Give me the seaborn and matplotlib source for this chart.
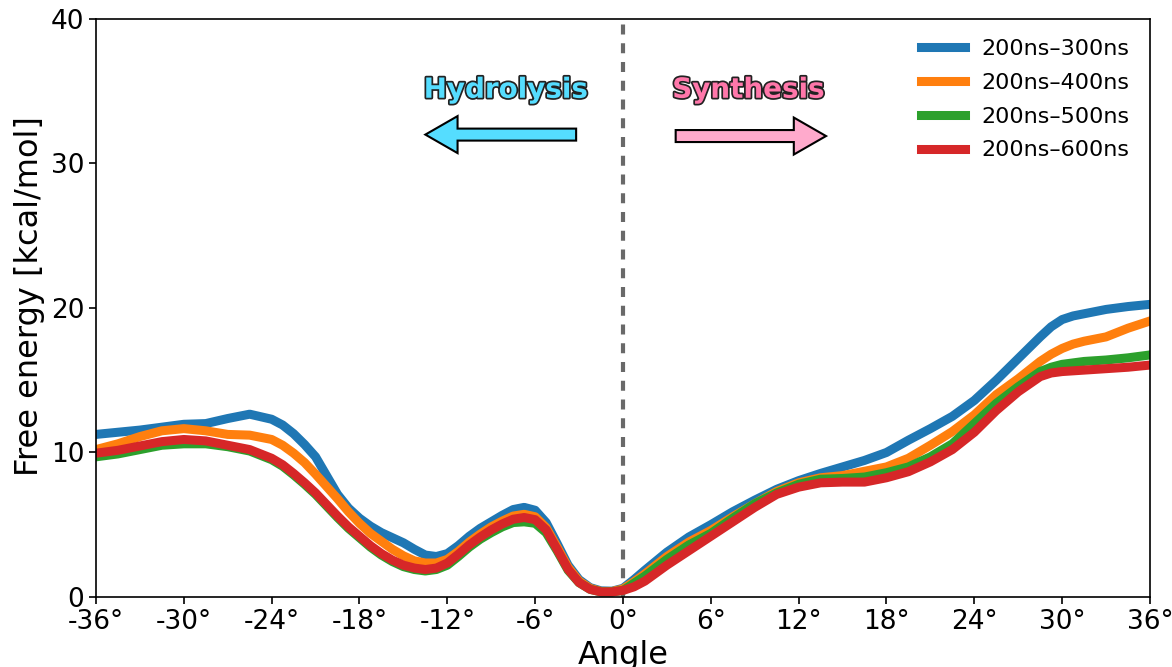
import matplotlib
matplotlib.use("Agg")
import matplotlib.pyplot as plt
import matplotlib.patheffects as pe
import pandas as pd
import seaborn as sns

# Rotation angle (degrees) at which the free-energy profiles are sampled
angle = [-36, -34.5, -33, -31.5, -30, -28.5, -27, -25.5, -24,
         -23.25, -22.5, -21.75, -21, -20.25, -19.5, -18.75, -18, -17.25, -16.5,
         -15.75, -15, -14.25, -13.5, -12.75, -12, -11.25, -10.5, -9.75, -9,
         -8.25, -7.5, -6.75, -6, -5.25, -4.5, -3.75, -3, -2.25, -1.5, -0.75, 0,
         0.75, 1.5, 3, 4.5, 6, 7.5, 9, 10.5, 12, 13.5, 15, 16.5, 18, 19.5, 21,
         22.5, 24, 25.5, 27, 28.5, 29.25, 30, 30.75, 31.5, 33, 34.5, 36]

# Free energy [kcal/mol] for each sampling window
fe_300 = [11.25, 11.4, 11.55, 11.75, 11.95, 12.0, 12.35, 12.65, 12.3,
          11.9, 11.3, 10.55, 9.7, 8.4, 7.1, 6.15, 5.45, 4.9, 4.45,
          4.1, 3.75, 3.3, 2.9, 2.8, 3.0, 3.55, 4.2, 4.75, 5.2,
          5.65, 6.05, 6.2, 6.0, 5.15, 3.7, 2.2, 1.2, 0.65, 0.42, 0.4, 0.6,
          1.2, 1.85, 3.1, 4.15, 5.0, 5.9, 6.7, 7.45, 8.05, 8.55, 9.0, 9.45, 10.0, 10.85, 11.65,
          12.5, 13.6, 15.0, 16.5, 18.0, 18.7, 19.2, 19.45, 19.6, 19.9, 20.1, 20.25]
fe_400 = [10.2, 10.6, 11.1, 11.5, 11.65, 11.5, 11.25, 11.2, 10.9,
          10.5, 9.95, 9.3, 8.5, 7.65, 6.8, 5.9, 5.1, 4.4, 3.85,
          3.3, 2.85, 2.5, 2.35, 2.35, 2.6, 3.15, 3.8, 4.35, 4.85,
          5.25, 5.6, 5.72, 5.55, 4.8, 3.45, 2.05, 1.1, 0.6, 0.38, 0.38, 0.55,
          1.05, 1.6, 2.8, 3.8, 4.6, 5.55, 6.45, 7.3, 7.9, 8.25, 8.4, 8.7, 9.0, 9.6, 10.5,
          11.45, 12.6, 14.0, 15.1, 16.3, 16.8, 17.2, 17.5, 17.7, 18.0, 18.6, 19.1]
fe_500 = [9.7, 9.9, 10.2, 10.5, 10.6, 10.6, 10.4, 10.1, 9.5,
          9.05, 8.45, 7.8, 7.1, 6.3, 5.5, 4.75, 4.1, 3.45, 2.9,
          2.45, 2.1, 1.9, 1.8, 1.9, 2.2, 2.8, 3.45, 4.0, 4.45,
          4.85, 5.15, 5.2, 5.1, 4.45, 3.2, 1.85, 0.99, 0.53, 0.35, 0.35, 0.45,
          0.95, 1.45, 2.6, 3.6, 4.4, 5.45, 6.45, 7.2, 7.8, 8.15, 8.2, 8.3, 8.6, 9.0, 9.7,
          10.6, 12.0, 13.4, 14.55, 15.6, 15.9, 16.1, 16.2, 16.3, 16.4, 16.55, 16.75]
fe_600 = [9.95, 10.15, 10.45, 10.75, 10.9, 10.8, 10.5, 10.2, 9.6,
          9.15, 8.55, 7.9, 7.2, 6.4, 5.6, 4.85, 4.2, 3.55, 3.0,
          2.55, 2.2, 2.0, 1.9, 2.0, 2.35, 2.95, 3.6, 4.15, 4.64,
          5.05, 5.38, 5.5, 5.35, 4.65, 3.3, 1.92, 1.0, 0.53, 0.35, 0.35, 0.45,
          0.7, 1.1, 2.2, 3.2, 4.2, 5.2, 6.2, 7.1, 7.6, 7.9, 7.95, 7.95, 8.25, 8.67, 9.35,
          10.2, 11.4, 12.9, 14.2, 15.25, 15.5, 15.6, 15.65, 15.7, 15.8, 15.9, 16.05]

windows = ["200ns\u2013300ns", "200ns\u2013400ns", "200ns\u2013500ns", "200ns\u2013600ns"]
colors = ["#1f77b4", "#ff7f0e", "#2ca02c", "#d62728"]

x_ticks = [-36, -30, -24, -18, -12, -6, 0, 6, 12, 18, 24, 30, 36]
y_ticks = [0, 10, 20, 30, 40]

df = pd.concat(
    [pd.DataFrame({"angle": angle, "fe": vals, "window": name})
     for name, vals in zip(windows, [fe_300, fe_400, fe_500, fe_600])],
    ignore_index=True,
)

fig = plt.figure(figsize=(11.72, 6.67), dpi=100)
ax = fig.add_axes([0.0819, 0.105, 0.8993, 0.8665])

sns.lineplot(data=df, x="angle", y="fe", hue="window", hue_order=windows,
             palette=colors, linewidth=6.5, estimator=None, sort=True,
             legend=False, ax=ax)

# Boundary between the two rotation directions
ax.axvline(0, color="dimgray", linewidth=3, dashes=(2.4, 2.1), zorder=1)

ax.set_xlim(-36, 36)
ax.set_ylim(0, 40)
ax.set_xticks(x_ticks)
ax.set_xticklabels([f"{t}\u00b0" for t in x_ticks])
ax.set_yticks(y_ticks)
ax.tick_params(labelsize=19, length=5, width=1.2)
for s in ax.spines.values():
    s.set_linewidth(1.2)
ax.set_xlabel("Angle", fontsize=23)
ax.set_ylabel("Free energy [kcal/mol]", fontsize=23)
ax.yaxis.set_label_coords(-0.048, 0.52)

handles = [plt.Line2D([], [], color=c, linewidth=6.5) for c in colors]
ax.legend(handles, windows, loc="upper right", frameon=False, fontsize=16,
          labelspacing=0.62, handlelength=2.0, handletextpad=0.75)

outline = [pe.withStroke(linewidth=2.5, foreground="#222222")]
ax.text(-8.0, 34.55, "Hydrolysis", ha="center", va="baseline", fontsize=20,
        fontweight="bold", color="#55ddff", path_effects=outline)
ax.text(8.57, 34.55, "Synthesis", ha="center", va="baseline", fontsize=20,
        fontweight="bold", color="#ff77aa", path_effects=outline)

ax.arrow(-3.2, 32.0, -10.3, 0, width=0.83, head_width=2.56, head_length=2.2,
         length_includes_head=True, facecolor="#55ddff", edgecolor="black",
         linewidth=1.5, zorder=5)
ax.arrow(3.6, 31.9, 10.27, 0, width=0.83, head_width=2.56, head_length=2.2,
         length_includes_head=True, facecolor="#ffaacc", edgecolor="black",
         linewidth=1.5, zorder=5)

fig.savefig("out.png", dpi=100)
